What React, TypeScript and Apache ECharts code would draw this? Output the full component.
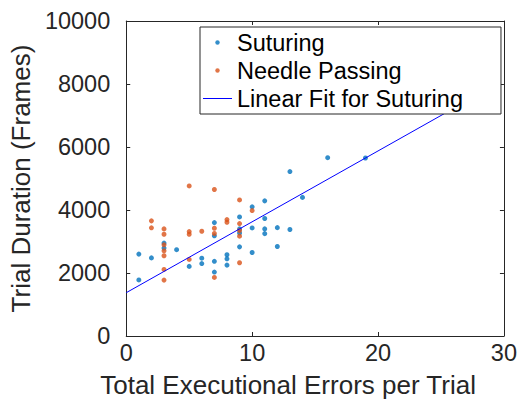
import React, { useEffect, useRef } from "react";
import * as echarts from "echarts";

const suturing: [number, number][] = [
  [1, 2600], [1, 1780], [2, 2480], [3, 2950], [3, 2790], [4, 2740], [5, 2210],
  [6, 2470], [6, 2300], [7, 3600], [7, 3180], [7, 2370], [7, 2030], [8, 2580],
  [8, 2450], [8, 2250], [9, 3780], [9, 3400], [9, 3270], [9, 2830], [10, 4100],
  [10, 3430], [10, 2650], [11, 4290], [11, 3730], [11, 3400], [11, 3250],
  [12, 3440], [12, 2840], [13, 5220], [13, 3380], [14, 4400], [16, 5660], [19, 5650],
];

const needlePassing: [number, number][] = [
  [2, 3655], [2, 3434], [3, 3400], [3, 3230], [3, 2895], [3, 2705], [3, 2547],
  [3, 2113], [3, 1774], [5, 4764], [5, 3316], [5, 3231], [5, 2430], [6, 3326],
  [7, 4650], [7, 3421], [7, 3253], [7, 1859], [8, 3696], [8, 3611], [9, 4320],
  [9, 3570], [9, 3348], [9, 3168], [9, 2325], [10, 3982],
];

const fitX = [0, 26];
const fitY = [1375, 7225];

const seriesNames = ["Suturing", "Needle Passing", "Linear Fit for Suturing"];
const xTitle = "Total Executional Errors per Trial";
const yTitle = "Trial Duration (Frames)";

const AX = "#262626";
const FONT = "'Liberation Sans', Arial, Helvetica, sans-serif";
const dotIcon = "path://M0,0M29,14M12.3,7a2.2,2.2 0 1,0 4.4,0a2.2,2.2 0 1,0 -4.4,0";
const lineIcon = "path://M0,0M29,14M0,6.5h29v1h-29z";

export default function App() {
  const ref = useRef<HTMLDivElement>(null);
  useEffect(() => {
    if (!ref.current) return;
    const chart = echarts.init(ref.current, undefined, { renderer: "svg" });
    const xCommon = {
      type: "value" as const,
      min: 0,
      max: 30,
      interval: 10,
      splitLine: { show: false },
      axisLine: { show: true, onZero: false, lineStyle: { color: AX, width: 1 } },
      axisTick: { show: true, inside: true, length: 4, lineStyle: { color: AX } },
    };
    const yCommon = {
      type: "value" as const,
      min: 0,
      max: 10000,
      interval: 2000,
      splitLine: { show: false },
      axisLine: { show: true, onZero: false, lineStyle: { color: AX, width: 1 } },
      axisTick: { show: true, inside: true, length: 4, lineStyle: { color: AX } },
    };
    chart.setOption({
      animation: false,
      textStyle: { fontFamily: FONT },
      grid: { left: 123.7, right: 11.7, top: 21, bottom: 66.3 },
      xAxis: [
        {
          ...xCommon,
          position: "bottom",
          name: xTitle,
          nameLocation: "middle",
          nameGap: 36,
          nameTextStyle: { fontSize: 26, color: AX, fontFamily: FONT, padding: [0, 54, 0, 0] },
          axisLabel: { fontSize: 23.5, color: AX, margin: 5, fontFamily: FONT, formatter: (v: number) => String(v) },
        },
        { ...xCommon, position: "top", axisLabel: { show: false } },
      ],
      yAxis: [
        {
          ...yCommon,
          position: "left",
          name: yTitle,
          nameLocation: "middle",
          nameGap: 89,
          nameTextStyle: { fontSize: 26, color: AX, fontFamily: FONT },
          axisLabel: { fontSize: 23.5, color: AX, margin: 16, fontFamily: FONT, formatter: (v: number) => String(v) },
        },
        { ...yCommon, position: "right", axisLabel: { show: false } },
      ],
      legend: {
        orient: "vertical",
        left: 200,
        top: 27,
        padding: [3.5, 38, 3.5, 3],
        itemWidth: 29,
        itemHeight: 14,
        itemGap: 4,
        backgroundColor: "#ffffff",
        borderColor: AX,
        borderWidth: 1,
        borderRadius: 0,
        textStyle: { fontSize: 23.5, color: "#000000", fontFamily: FONT },
        data: [
          { name: seriesNames[0], icon: dotIcon },
          { name: seriesNames[1], icon: dotIcon },
          { name: seriesNames[2], icon: lineIcon },
        ],
      },
      series: [
        {
          name: seriesNames[0],
          type: "scatter",
          data: suturing,
          symbolSize: 5,
          itemStyle: { color: "#0072BD" },
        },
        {
          name: seriesNames[1],
          type: "scatter",
          data: needlePassing,
          symbolSize: 5,
          itemStyle: { color: "#D95319" },
        },
        {
          name: seriesNames[2],
          type: "line",
          data: fitX.map((x, i) => [x, fitY[i]]),
          symbol: "none",
          lineStyle: { color: "#0000FF", width: 1 },
          itemStyle: { color: "#0000FF" },
        },
      ],
    });
    return () => chart.dispose();
  }, []);
  return (
    <div
      ref={ref}
      style={{ position: "absolute", left: 0, top: 0, width: 520, height: 403, background: "#fff" }}
    />
  );
}
